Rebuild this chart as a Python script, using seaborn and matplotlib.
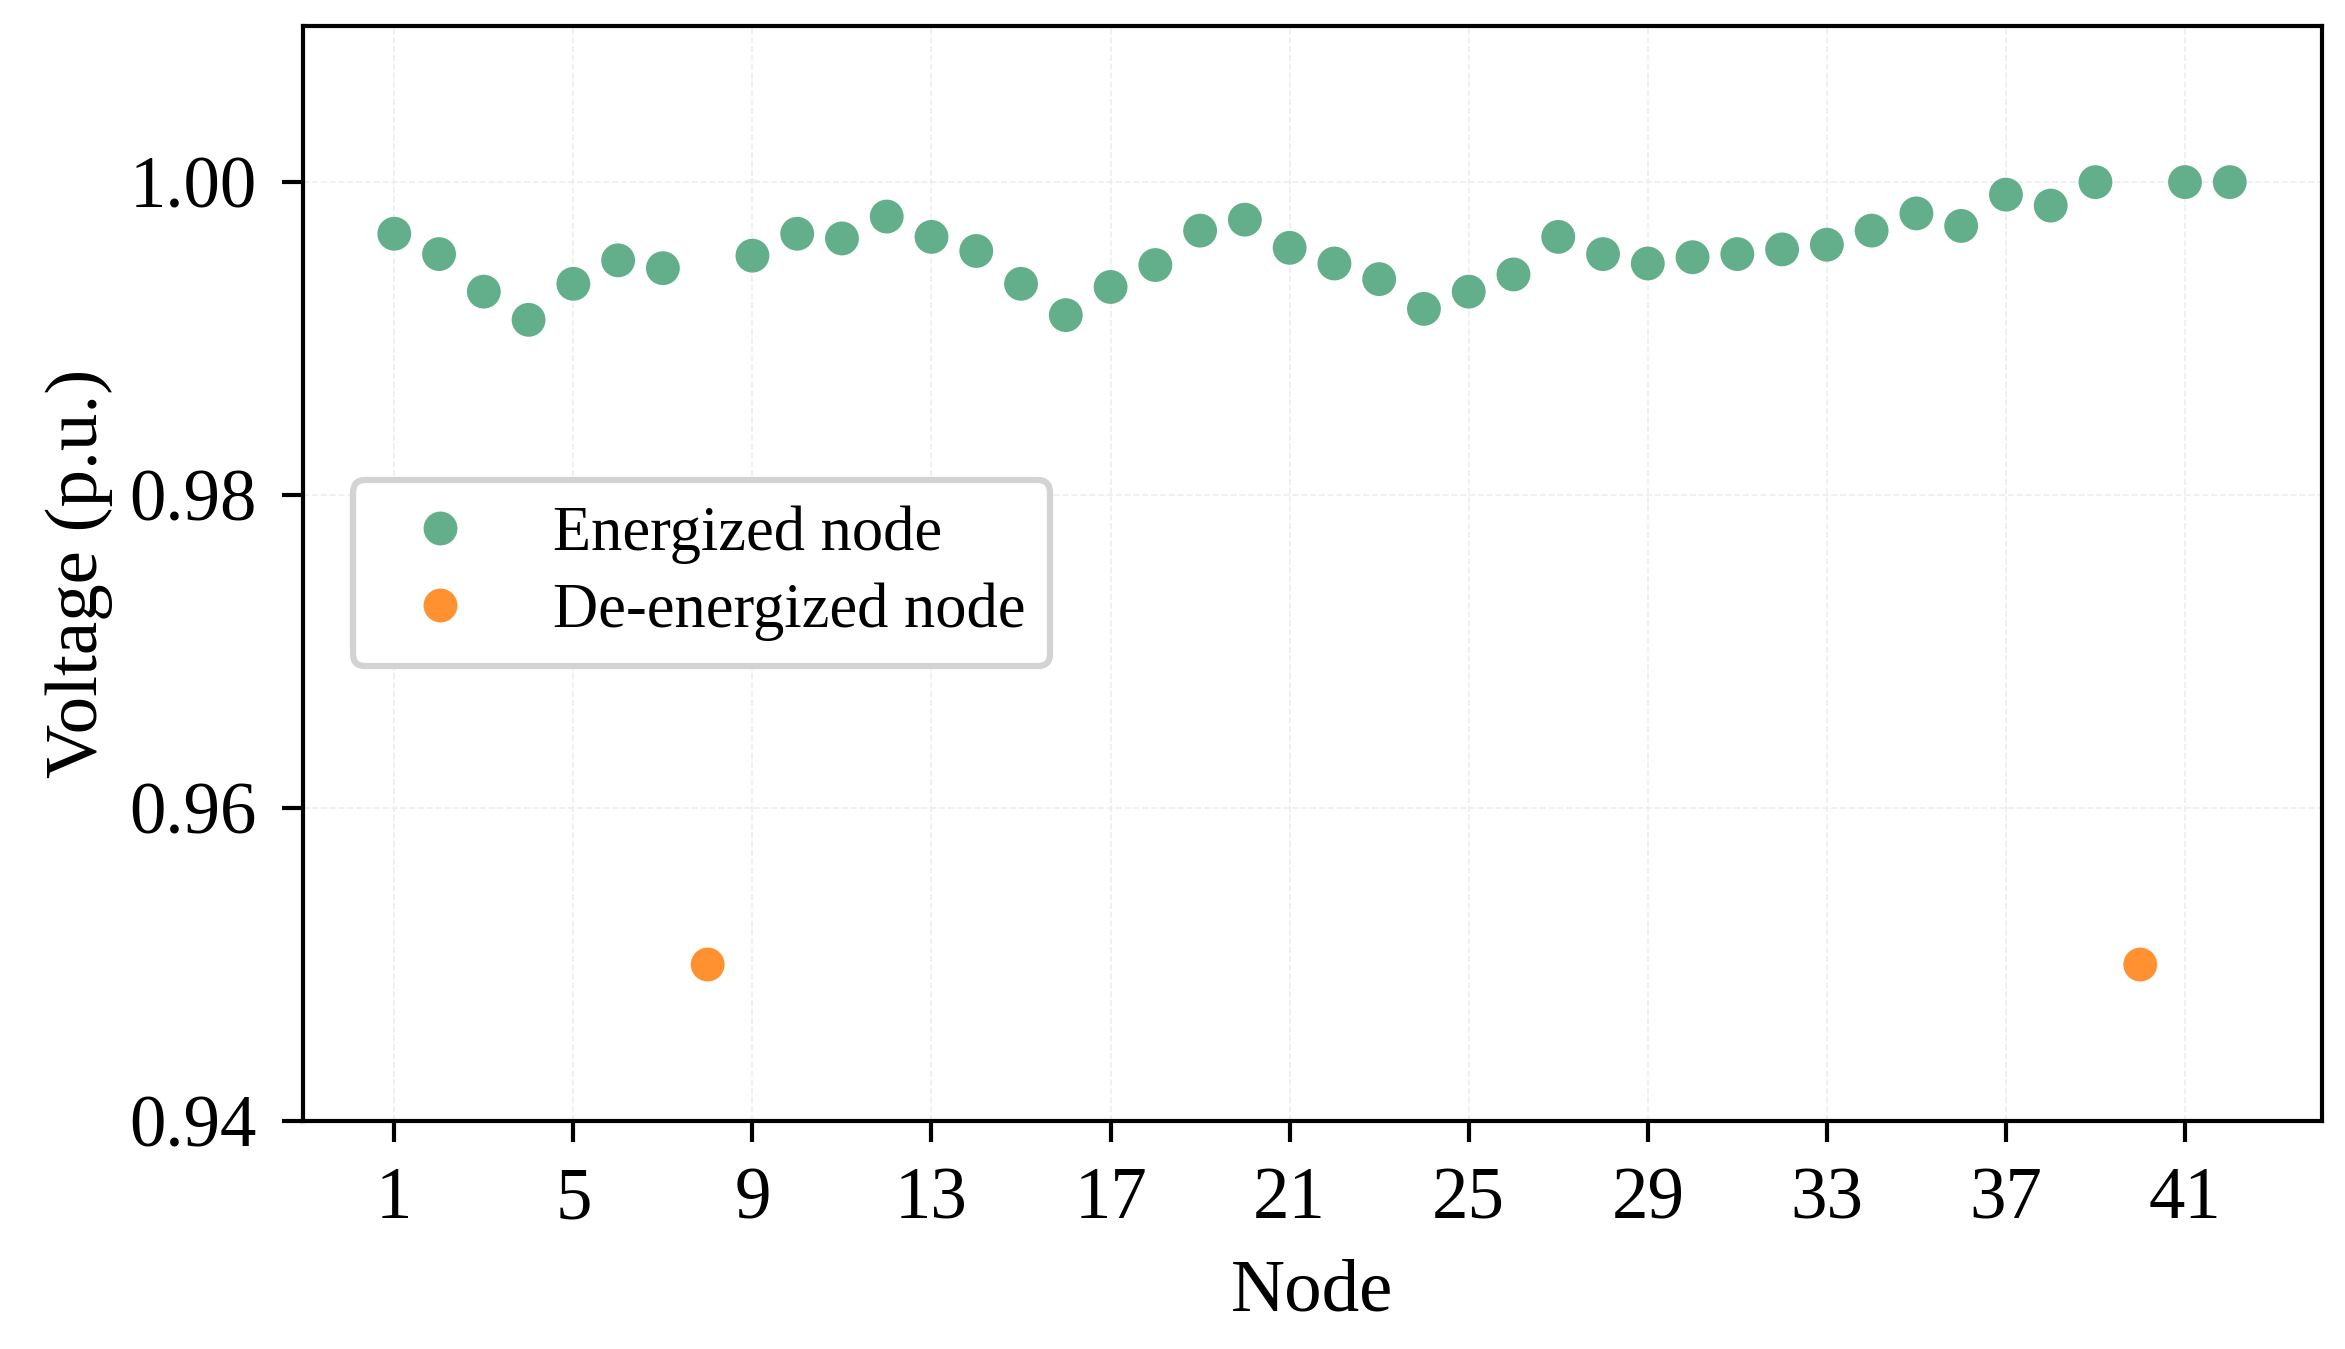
import numpy as np
import pandas as pd
import matplotlib
matplotlib.use("Agg")
import matplotlib.pyplot as plt
import seaborn as sns

# Node voltages
nodes = list(range(1, 43))
voltages = [0.9967, 0.9954, 0.9930, 0.9912, 0.9935, 0.9950, 0.9945, 0.9500,
            0.9953, 0.9967, 0.9964, 0.9978, 0.9965, 0.9956, 0.9935, 0.9915,
            0.9933, 0.9947, 0.9969, 0.9976, 0.9958, 0.9948, 0.9938, 0.9919,
            0.9930, 0.9941, 0.9965, 0.9954, 0.9948, 0.9952, 0.9954, 0.9957,
            0.9960, 0.9969, 0.9980, 0.9972, 0.9992, 0.9985, 1.0000, 0.9500,
            1.0000, 1.0000]
de_energized = [8, 40]
tick_nodes = list(range(1, 42, 4))

status = ['De-energized node' if n in de_energized else 'Energized node' for n in nodes]
df = pd.DataFrame({'Node': nodes, 'Voltage': voltages, 'Status': status})

sns.set_style('white')
plt.rcParams['font.family'] = ['Liberation Serif', 'DejaVu Serif']
plt.rcParams['text.color'] = 'black'
plt.rcParams['axes.labelcolor'] = 'black'
plt.rcParams['xtick.color'] = 'black'
plt.rcParams['ytick.color'] = 'black'

fig, ax = plt.subplots(figsize=(2345 / 300, 1349 / 300), dpi=300)
fig.subplots_adjust(left=0.129, right=0.990, top=0.981, bottom=0.169)

palette = {'Energized node': '#63AF8C', 'De-energized node': '#FF9130'}
sns.scatterplot(data=df, x='Node', y='Voltage', hue='Status', palette=palette,
                hue_order=['Energized node', 'De-energized node'],
                s=66, linewidth=0, ax=ax, zorder=3)

ax.set_ylim(0.94, 1.01)
ax.set_yticks([0.94, 0.96, 0.98, 1.00])
ax.set_yticklabels(['0.94', '0.96', '0.98', '1.00'])
ax.set_xticks(tick_nodes)
ax.grid(True, linestyle='--', linewidth=0.4, color='#ededed')
ax.tick_params(axis='both', direction='out', length=5, width=1.0, pad=6,
               labelsize=17.5, left=True, bottom=True)
for sp in ax.spines.values():
    sp.set_color('black')
    sp.set_linewidth(1.0)

ax.set_xlabel('Node', fontsize=18, labelpad=6)
ax.set_ylabel('Voltage (p.u.)', fontsize=18, labelpad=4)

leg = ax.legend(loc='center left', bbox_to_anchor=(0.0, 0.5), borderaxespad=0.8,
                fontsize=15, labelspacing=0.3, frameon=True, fancybox=True,
                framealpha=1.0)
leg.get_frame().set_edgecolor('#d3d3d3')
leg.get_frame().set_linewidth(1.5)

fig.savefig('out.png', dpi=300)
